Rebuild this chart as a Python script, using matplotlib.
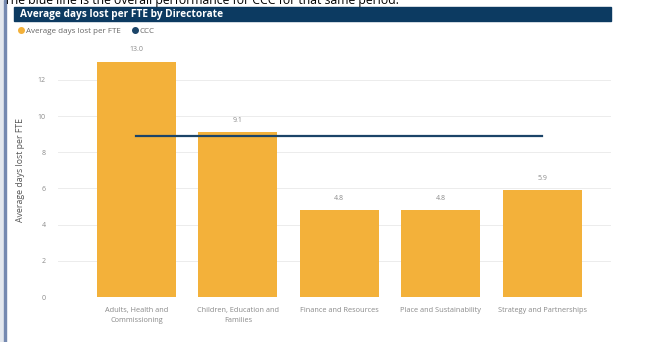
import matplotlib.pyplot as plt
from matplotlib.lines import Line2D
from matplotlib.patches import Rectangle

# Sickness absence figures by directorate
directorates = ['Adults, Health and\nCommissioning', 'Children, Education and\nFamilies',
                'Finance and Resources', 'Place and Sustainability', 'Strategy and Partnerships']
days_lost = [13.0, 9.1, 4.8, 4.8, 5.9]
ccc_overall = [8.9, 8.9, 8.9, 8.9, 8.9]

W, H = 659, 342
bar_col = '#F3B13A'
line_col = '#1B4468'
grey = '#8a8a8a'

plt.rcParams['font.family'] = ['Open Sans', 'DejaVu Sans']

fig = plt.figure(figsize=(W / 100, H / 100), dpi=100)

# sentence running off the top edge
fig.text(4 / W, 1 - 0.5 / H, 'The blue line is the overall performance for CCC for that same period.',
         fontsize=8.8, color='black', va='center', ha='left')

# left page border
fig.patches.append(Rectangle((0, 0), 4 / W, 1, transform=fig.transFigure, color='#e4e8ee', zorder=0))
fig.patches.append(Rectangle((4 / W, 0), 1.6 / W, 1, transform=fig.transFigure, color='#7589b0', zorder=1))

# header bar
fig.patches.append(Rectangle((14 / W, 1 - 21 / H), 597 / W, 14 / H, transform=fig.transFigure,
                             color='#0c3a61', zorder=1))
fig.text(20 / W, 1 - 14 / H, 'Average days lost per FTE by Directorate', fontsize=7.3,
         fontweight='bold', color='white', va='center', ha='left')

ax = fig.add_axes([58 / W, 1 - 297 / H, 553 / W, 253.4 / H])
x = list(range(len(directorates)))
bars = ax.bar(x, days_lost, width=0.78, color=bar_col, zorder=2)
ax.plot(x, ccc_overall, color=line_col, linewidth=1.6, zorder=3)

for xi, v in zip(x, days_lost):
    ax.annotate(f'{v:.1f}', (xi, v), xytext=(0, 6), textcoords='offset points',
                ha='center', va='bottom', fontsize=5, color=grey)

ax.set_xlim(-0.774, 4.68)
ax.set_ylim(0, 14)
ax.set_yticks(range(0, 14, 2))
ax.set_xticks(x)
ax.set_xticklabels(directorates, fontsize=5.3, color=grey, linespacing=1.6)
ax.tick_params(axis='y', labelsize=5, labelcolor=grey, length=0, pad=9)
ax.tick_params(axis='x', length=0, pad=7)
ax.grid(axis='y', color='#ececec', linewidth=0.7, zorder=0)
for s in ax.spines.values():
    s.set_visible(False)
ax.set_ylabel('Average days lost per FTE', fontsize=6.3, color='#555555', labelpad=9)

handles = [Line2D([], [], marker='o', linestyle='', markersize=4, color=bar_col),
           Line2D([], [], marker='o', linestyle='', markersize=4, color=line_col)]
fig.legend(handles, ['Average days lost per FTE', 'CCC'], loc='center left',
           bbox_to_anchor=(16 / W, 1 - 31 / H), ncol=2, frameon=False, fontsize=5.8,
           labelcolor='#666666', handletextpad=0.0, columnspacing=1.2, handlelength=1.2,
           borderaxespad=0, borderpad=0)

fig.savefig('out.png', dpi=100)
